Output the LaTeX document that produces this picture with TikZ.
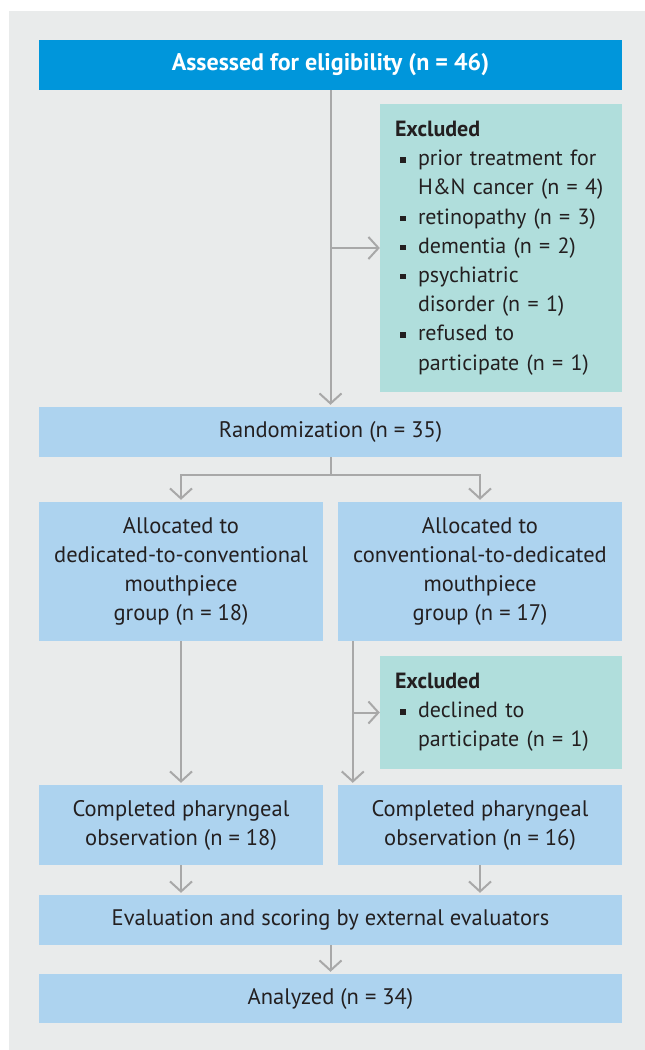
\documentclass[tikz,border=0pt]{standalone}
\usepackage{fontspec}
\setmainfont{PT Sans}
\usepackage{tikz}
\usetikzlibrary{arrows.meta}
\usetikzlibrary{positioning,calc}

\definecolor{bgcol}{HTML}{E9EBEB}
\definecolor{topblue}{HTML}{0096DB}
\definecolor{boxblue}{HTML}{ADD3EF}
\definecolor{exclteal}{HTML}{B0DEDC}
\definecolor{arrowgrey}{HTML}{A8A8A8}
\definecolor{txt}{HTML}{231F20}

\newcommand{\sqbul}{\makebox[23pt][l]{\hspace{5pt}\rule[0.28ex]{5.5pt}{5.5pt}}}
\newcommand{\indnt}{\hspace*{23pt}}

\tikzset{
	flowbox/.style={rectangle,fill=boxblue,text=txt,inner sep=0pt,align=center,
		font=\fontsize{22.5}{29}\selectfont},
	exclbox/.style={rectangle,fill=exclteal,text=txt,inner sep=0pt,align=left,
		minimum width=242pt,text width=212pt,font=\fontsize{22}{29.2}\selectfont},
	flowarrow/.style={draw=arrowgrey,line width=2pt,
		-{Straight Barb[length=10pt,width=22pt,line width=2pt]}}
}

\begin{document}
\begin{tikzpicture}[x=1pt,y=-1pt]
		\useasboundingbox (0,0) rectangle (645,1050);
		\fill[bgcol] (9,11) rectangle (645,1050);

		\node[flowbox,fill=topblue,text=white,minimum width=583pt,minimum height=50pt,
			font=\fontsize{24}{29}\selectfont\bfseries] (assess) at (330.5,65) {Assessed for eligibility (n = 46)};

		\node[exclbox,minimum height=288pt] (excl1) at (501,248) {%
			\textbf{Excluded}\\
			\sqbul\mbox{prior treatment for}\\
			\indnt\mbox{H\&N cancer (n = 4)}\\
			\sqbul\mbox{retinopathy (n = 3)}\\
			\sqbul dementia (n = 2)\\
			\sqbul psychiatric\\
			\indnt disorder (n = 1)\\
			\sqbul refused to\\
			\indnt\mbox{participate (n = 1)}};

		\begin{scope}[every node/.style={flowbox}]
			\node[minimum width=583pt,minimum height=50pt] (rand) at (330.5,432) {Randomization (n = 35)};
			\node[minimum width=284pt,minimum height=139pt] (allocL) at (181,571.5)
				{Allocated to\\ dedicated-to-conventional\\ mouthpiece\\ group (n = 18)};
			\node[minimum width=284pt,minimum height=139pt] (allocR) at (480,571.5)
				{Allocated to\\ conventional-to-dedicated\\ mouthpiece\\ group (n = 17)};
			\node[minimum width=284pt,minimum height=80pt] (complL) at (181,825)
				{Completed pharyngeal\\ observation (n = 18)};
			\node[minimum width=284pt,minimum height=80pt] (complR) at (480,825)
				{Completed pharyngeal\\ observation (n = 16)};
			\node[minimum width=583pt,minimum height=50pt] (eval) at (330.5,920)
				{Evaluation and scoring by external evaluators};
			\node[minimum width=583pt,minimum height=49pt] (anal) at (330.5,998.5) {Analyzed (n = 34)};
		\end{scope}

		\node[exclbox,minimum height=113pt] (excl2) at (501,712.5) {%
			\textbf{Excluded}\\
			\sqbul declined to\\
			\indnt\mbox{participate (n = 1)}};

		\coordinate (split) at ($(rand.south)+(0,18)$);
		\coordinate (dropR) at ($(allocR.south west)+(15,0)$);

		\begin{scope}[shorten >=2pt]
			\draw[flowarrow] (assess.south) -- (rand.north);
			\draw[flowarrow,shorten >=0pt] (assess.south |- excl1.west) -- (excl1.west);
			\draw[flowarrow] (rand.south) -- (split) -| (allocL.north);
			\draw[flowarrow] (split) -| (allocR.north);
			\draw[flowarrow] (allocL.south) -- (complL.north);
			\draw[flowarrow] (dropR) -- (dropR |- complR.north);
			\draw[flowarrow,shorten >=0pt] (dropR |- excl2.west) -- (excl2.west);
			\draw[flowarrow] (complL.south) -- (complL.south |- eval.north);
			\draw[flowarrow] (complR.south) -- (complR.south |- eval.north);
			\draw[flowarrow] (eval.south) -- (anal.north);
		\end{scope}
	\end{tikzpicture}
\end{document}
